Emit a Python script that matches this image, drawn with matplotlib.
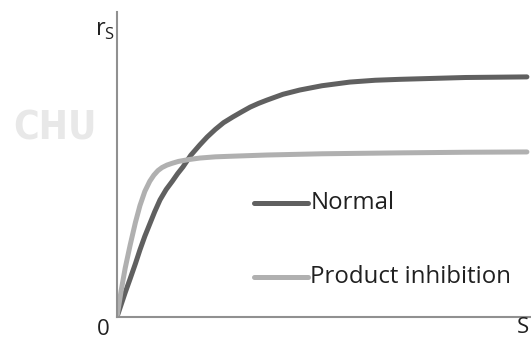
import matplotlib
matplotlib.use('Agg')
import matplotlib.pyplot as plt

# ______ data ______
# substrate concentration S and rate r_s, arbitrary units
s_normal = [0, 0.2, 0.32, 0.45, 0.56, 0.68, 0.8, 0.92, 1.05, 1.2, 1.35, 1.48, 1.61, 1.8, 2.02, 2.2, 2.4, 2.6, 2.83, 3.05,
            3.25, 3.45, 3.66, 4.05, 4.46, 5.0, 5.68, 6.3, 6.9, 8.5, 10]
r_normal = [0, 0.8, 1.25, 1.75, 2.2, 2.65, 3.05, 3.45, 3.84, 4.18, 4.45, 4.7, 4.92, 5.3, 5.64, 5.9, 6.15, 6.37, 6.56, 6.73,
            6.88, 7.0, 7.11, 7.3, 7.44, 7.58, 7.7, 7.76, 7.79, 7.85, 7.87]

s_inhib = [0, 0.1, 0.2, 0.32, 0.45, 0.56, 0.68, 0.8, 0.9, 1.0, 1.1, 1.22, 1.35, 1.5, 1.75, 2.02, 2.4, 2.8, 3.66, 5.0, 6.9, 8.5, 10]
r_inhib = [0, 0.85, 1.6, 2.35, 3.1, 3.65, 4.12, 4.45, 4.65, 4.8, 4.9, 4.98, 5.04, 5.1, 5.16, 5.21, 5.25, 5.27, 5.31, 5.35, 5.38, 5.4, 5.41]

series = ['Normal', 'Product inhibition']
colores = ['#606060', '#b0b0b0']
leg_y = [3.73, 1.32]

plt.rcParams['mathtext.fontset'] = 'custom'
plt.rcParams['mathtext.rm'] = 'Open Sans'

fig = plt.figure(figsize=(5.31, 3.40), dpi=100)
ax = fig.add_axes([0.2203, 0.0676, 0.7797, 0.8974])
ax.set_xlim(0, 10.1)
ax.set_ylim(0, 10)

ax.plot(s_normal, r_normal, color=colores[0], lw=3.6, solid_capstyle='round', solid_joinstyle='round')
ax.plot(s_inhib, r_inhib, color=colores[1], lw=3.6, solid_capstyle='round', solid_joinstyle='round')

# legenda na linha
for nome, cor, yy in zip(series, colores, leg_y):
    ax.plot([3.35, 4.65], [yy, yy], color=cor, lw=3.6, solid_capstyle='round')
    ax.text(4.72, yy, nome, fontsize=17.3, family='Open Sans', color='#202020', va='center', ha='left')

for lado in ['top', 'right']:
    ax.spines[lado].set_visible(False)
for lado in ['left', 'bottom']:
    ax.spines[lado].set_color('#909090')
    ax.spines[lado].set_linewidth(1.5)
ax.set_xticks([])
ax.set_yticks([])

fig.text(97 / 531, 1 - 319 / 340, '0', fontsize=16, family='Open Sans', va='top', ha='left', color='#202020')
fig.text(517 / 531, 1 - 317 / 340, 'S', fontsize=16, family='Open Sans', va='top', ha='left', color='#202020')
fig.text(95 / 531, 1 - 36 / 340, r'r$_\mathregular{S}$', fontsize=17, family='Open Sans', va='baseline', ha='left', color='#202020')

# marca d'agua
fig.text(13 / 531, 1 - 140 / 340, 'CHU', fontsize=28, family='DejaVu Sans', stretch='condensed', weight='bold', color='#e8e8e8', va='baseline', ha='left')

fig.savefig('out.png', dpi=100)
